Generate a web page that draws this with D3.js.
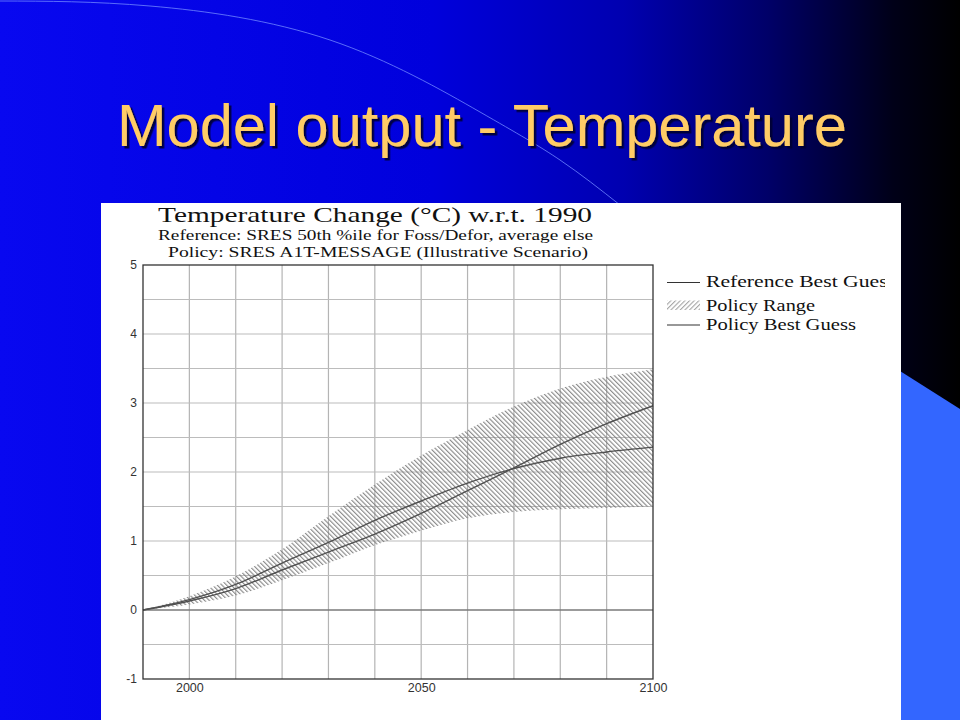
<!DOCTYPE html>
<html>
<head>
<meta charset="utf-8">
<script src="https://cdn.jsdelivr.net/npm/d3@7"></script>
<style>
  html, body { margin: 0; padding: 0; background: #000; }
  svg { display: block; }
</style>
</head>
<body>
<svg width="960" height="720"></svg>
<script>
//*
//* Data
//*

var years         = [1990, 2000, 2010, 2020, 2030, 2040, 2050, 2060, 2070, 2080, 2090, 2100];
var referenceBest = [0, 0.13, 0.31, 0.58, 0.84, 1.10, 1.40, 1.73, 2.06, 2.40, 2.70, 2.96];
var policyBest    = [0, 0.15, 0.37, 0.68, 0.98, 1.30, 1.58, 1.84, 2.05, 2.20, 2.29, 2.36];
var policyHigh    = [0, 0.20, 0.49, 0.88, 1.36, 1.82, 2.24, 2.61, 2.95, 3.21, 3.38, 3.49];
var policyLow     = [0, 0.08, 0.21, 0.43, 0.68, 0.94, 1.15, 1.33, 1.42, 1.46, 1.48, 1.50];

var yTickLabels = [-1, 0, 1, 2, 3, 4, 5];
var xTickLabels = [2000, 2050, 2100];
var xGridYears  = [2000, 2010, 2020, 2030, 2040, 2050, 2060, 2070, 2080, 2090];
var yGridValues = [-0.5, 0.5, 1, 1.5, 2, 2.5, 3, 3.5, 4, 4.5];

var slideTitle = "Model output - Temperature";
var chartTitle = "Temperature Change (\u00B0C) w.r.t. 1990";
var subTitles  = ["Reference: SRES 50th %ile for Foss/Defor, average else",
                  "Policy: SRES A1T-MESSAGE (Illustrative Scenario)"];
var legendNames = ["Reference Best Guess", "Policy Range", "Policy Best Guess"];

//*
//* Slide
//*

var svg = d3.select("svg");
var defs = svg.append("defs");

var bg = defs.append("linearGradient")
	.attr("id", "bg")
	.attr("x1", "0%").attr("x2", "100%")
	.attr("y1", "0%").attr("y2", "0%");
[[0, "#0808f0"], [0.45, "#0000dc"], [0.65, "#0000b0"], [0.8, "#000068"], [0.93, "#000018"], [1, "#000000"]]
	.forEach(function(s) {
		bg.append("stop").attr("offset", s[0]).attr("stop-color", s[1]);
	});

var shadow = defs.append("filter")
	.attr("id", "shadow")
	.attr("x", "-5%").attr("y", "-20%")
	.attr("width", "110%").attr("height", "140%");
shadow.append("feDropShadow")
	.attr("dx", 2.5).attr("dy", 2.5)
	.attr("stdDeviation", 0.6)
	.attr("flood-color", "#000030")
	.attr("flood-opacity", 0.9);

svg.append("rect")
	.attr("width", 960).attr("height", 720)
	.attr("fill", "url(#bg)");

/* light blue corner shape */
svg.append("path")
	.attr("d", "M900,371 L960,409 L960,720 L900,720 Z")
	.attr("fill", "#3366ff");

/* thin decorative arc */
var arcPoints = [[0, 1], [150, 6], [330, 40], [480, 112], [560, 160], [620, 205]];
svg.append("path")
	.attr("d", d3.line().curve(d3.curveNatural)(arcPoints))
	.attr("fill", "none")
	.attr("stroke", "#6f86ff")
	.attr("stroke-opacity", 0.8)
	.attr("stroke-width", 1);

/* slide title */
svg.append("text")
	.attr("x", 117)
	.attr("y", 146)
	.attr("font-family", "Arial, 'Liberation Sans', sans-serif")
	.attr("font-size", 59.5)
	.attr("fill", "#ffcc66")
	.attr("filter", "url(#shadow)")
	.text(slideTitle);

//*
//* Chart image
//*

svg.append("rect")
	.attr("x", 101).attr("y", 203)
	.attr("width", 800).attr("height", 517)
	.attr("fill", "#ffffff");

var x = d3.scaleLinear().domain([1990, 2100]).range([143, 653]);
var y = d3.scaleLinear().domain([-1, 5]).range([679, 265]);

/* hatch patterns */
function hatch(id, angle) {
	defs.append("pattern")
		.attr("id", id)
		.attr("patternUnits", "userSpaceOnUse")
		.attr("width", 3.3).attr("height", 10)
		.attr("patternTransform", "rotate(" + angle + ")")
		.append("line")
		.attr("x1", 0.6).attr("y1", 0)
		.attr("x2", 0.6).attr("y2", 10)
		.attr("stroke", "#7a7a7a")
		.attr("stroke-width", 1);
}
hatch("hatchPlot", -45);
hatch("hatchLegend", 45);

/* titles */
var serif = "'Liberation Serif', 'Times New Roman', 'DejaVu Serif', serif";
svg.append("text")
	.attr("x", 158).attr("y", 222)
	.attr("font-family", serif)
	.attr("font-size", 21.5)
	.attr("textLength", 434)
	.attr("lengthAdjust", "spacingAndGlyphs")
	.attr("fill", "#111")
	.text(chartTitle);
svg.selectAll(".sub")
	.data(subTitles)
	.enter()
	.append("text")
	.attr("class", "sub")
	.attr("x", function(d, i) { return i === 0 ? 158 : 168; })
	.attr("y", function(d, i) { return 240 + i * 16.5; })
	.attr("font-family", serif)
	.attr("font-size", 14.5)
	.attr("textLength", function(d, i) { return i === 0 ? 435 : 420; })
	.attr("lengthAdjust", "spacingAndGlyphs")
	.attr("fill", "#111")
	.text(function(d) { return d; });

/* grid */
svg.append("g")
	.selectAll("line")
	.data(xGridYears)
	.enter()
	.append("line")
	.attr("x1", function(d) { return x(d); })
	.attr("x2", function(d) { return x(d); })
	.attr("y1", y(5)).attr("y2", y(-1))
	.attr("stroke", "#b4b4b4")
	.attr("stroke-width", 1.2);
svg.append("g")
	.selectAll("line")
	.data(yGridValues)
	.enter()
	.append("line")
	.attr("x1", x(1990)).attr("x2", x(2100))
	.attr("y1", function(d) { return y(d); })
	.attr("y2", function(d) { return y(d); })
	.attr("stroke", "#bcbcbc")
	.attr("stroke-width", 1.2);
svg.append("line")
	.attr("x1", x(1990)).attr("x2", x(2100))
	.attr("y1", y(0)).attr("y2", y(0))
	.attr("stroke", "#7a7a7a")
	.attr("stroke-width", 1.6);

/* policy range */
var rows = years.map(function(yr, i) {
	return { year: yr, ref: referenceBest[i], pol: policyBest[i], lo: policyLow[i], hi: policyHigh[i] };
});
svg.append("path")
	.datum(rows)
	.attr("d", d3.area()
		.curve(d3.curveMonotoneX)
		.x(function(d) { return x(d.year); })
		.y0(function(d) { return y(d.lo); })
		.y1(function(d) { return y(d.hi); }))
	.attr("fill", "url(#hatchPlot)");

/* best guess lines */
["ref", "pol"].forEach(function(key) {
	svg.append("path")
		.datum(rows)
		.attr("d", d3.line()
			.curve(d3.curveMonotoneX)
			.x(function(d) { return x(d.year); })
			.y(function(d) { return y(d[key]); }))
		.attr("fill", "none")
		.attr("stroke", "#505050")
		.attr("stroke-width", 1.4);
});

/* frame */
svg.append("rect")
	.attr("x", x(1990)).attr("y", y(5))
	.attr("width", x(2100) - x(1990))
	.attr("height", y(-1) - y(5))
	.attr("fill", "none")
	.attr("stroke", "#333")
	.attr("stroke-width", 1.3);

/* axes */
var yAxis = d3.axisLeft(y).tickValues(yTickLabels).tickSize(0).tickPadding(6).tickFormat(function(d) { return String(d); });
var xAxis = d3.axisBottom(x).tickValues(xTickLabels).tickSize(0).tickPadding(4).tickFormat(function(d) { return String(d); });

svg.append("g")
	.attr("transform", "translate(" + x(1990) + ",0)")
	.call(yAxis)
	.call(function(g) { g.select(".domain").remove(); })
	.selectAll("text")
	.attr("font-family", "Arial, 'Liberation Sans', sans-serif")
	.attr("font-size", 12)
	.attr("fill", "#333");

svg.append("g")
	.attr("transform", "translate(0," + y(-1) + ")")
	.call(xAxis)
	.call(function(g) { g.select(".domain").remove(); })
	.selectAll("text")
	.attr("font-family", "Arial, 'Liberation Sans', sans-serif")
	.attr("font-size", 12.5)
	.attr("fill", "#333");

/* legend */
defs.append("clipPath")
	.attr("id", "legendClip")
	.append("rect")
	.attr("x", 660).attr("y", 260)
	.attr("width", 225).attr("height", 90);

var legend = svg.append("g").attr("clip-path", "url(#legendClip)");
var legendY = [282.5, 306, 325];
var legendLen = [190, 109, 150];

legend.selectAll("text")
	.data(legendNames)
	.enter()
	.append("text")
	.attr("x", 706)
	.attr("y", function(d, i) { return legendY[i] + 4.5; })
	.attr("font-family", serif)
	.attr("font-size", 16.5)
	.attr("textLength", function(d, i) { return legendLen[i]; })
	.attr("lengthAdjust", "spacingAndGlyphs")
	.attr("fill", "#111")
	.text(function(d) { return d; });

[0, 2].forEach(function(i) {
	legend.append("line")
		.attr("x1", 667).attr("x2", 700)
		.attr("y1", legendY[i]).attr("y2", legendY[i])
		.attr("stroke", "#333")
		.attr("stroke-width", 1.2);
});
legend.append("rect")
	.attr("x", 667).attr("y", 300.5)
	.attr("width", 33).attr("height", 9.5)
	.attr("fill", "url(#hatchLegend)")
	.attr("opacity", 0.75);
</script>
</body>
</html>
